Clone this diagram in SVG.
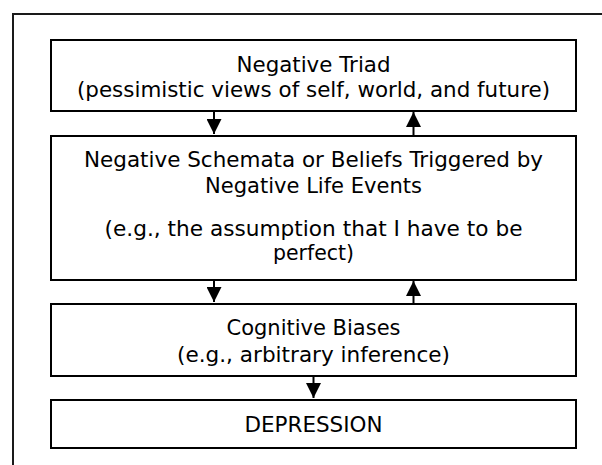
<svg xmlns="http://www.w3.org/2000/svg" width="602" height="465" viewBox="0 0 602 465">
  <style>
    .box { fill: #ffffff; stroke: #000000; stroke-width: 2; }
    .frame { fill: none; stroke: #1a1a1a; stroke-width: 2; }
    .lbl { font-family: "DejaVu Sans", Verdana, sans-serif; font-size: 20.5px; fill: #000000; text-anchor: middle; }
    .conn { stroke: #000000; stroke-width: 2; fill: none; marker-end: url(#head); }
  </style>
  <defs>
    <marker id="head" markerUnits="userSpaceOnUse" markerWidth="15" markerHeight="15" refX="15" refY="7.5" orient="auto">
      <path d="M0,0 L15,7.5 L0,15 Z" fill="#000000"/>
    </marker>
  </defs>

  <rect width="602" height="465" fill="#ffffff"/>

  <!-- outer frame: top and left edges -->
  <path class="frame" d="M13,465 L13,14 L602,14"/>

  <g id="negative-triad">
    <rect class="box" x="51" y="40" width="525" height="71"/>
    <text class="lbl" x="313.5" y="72" textLength="154" lengthAdjust="spacingAndGlyphs">Negative Triad</text>
    <text class="lbl" x="313.5" y="97" textLength="473" lengthAdjust="spacingAndGlyphs">(pessimistic views of self, world, and future)</text>
  </g>

  <g id="negative-schemata">
    <rect class="box" x="51" y="136" width="525" height="144"/>
    <text class="lbl" x="313.5" y="167" textLength="459" lengthAdjust="spacingAndGlyphs">Negative Schemata or Beliefs Triggered by</text>
    <text class="lbl" x="313.5" y="193" textLength="217" lengthAdjust="spacingAndGlyphs">Negative Life Events</text>
    <text class="lbl" x="313.5" y="236" textLength="418" lengthAdjust="spacingAndGlyphs">(e.g., the assumption that I have to be</text>
    <text class="lbl" x="313.5" y="260" textLength="81" lengthAdjust="spacingAndGlyphs">perfect)</text>
  </g>

  <g id="cognitive-biases">
    <rect class="box" x="51" y="304" width="525" height="72"/>
    <text class="lbl" x="313.5" y="335" textLength="174" lengthAdjust="spacingAndGlyphs">Cognitive Biases</text>
    <text class="lbl" x="313.5" y="361.5" textLength="273" lengthAdjust="spacingAndGlyphs">(e.g., arbitrary inference)</text>
  </g>

  <g id="depression">
    <rect class="box" x="51" y="400" width="525" height="48"/>
    <text class="lbl" x="313.5" y="431.5" textLength="138" lengthAdjust="spacingAndGlyphs">DEPRESSION</text>
  </g>

  <g id="connectors">
    <line class="conn" x1="214" y1="111" x2="214" y2="134"/>
    <line class="conn" x1="413.5" y1="135" x2="413.5" y2="112"/>
    <line class="conn" x1="214" y1="280" x2="214" y2="302"/>
    <line class="conn" x1="413.5" y1="303" x2="413.5" y2="281"/>
    <line class="conn" x1="313.5" y1="376" x2="313.5" y2="398"/>
  </g>
</svg>
